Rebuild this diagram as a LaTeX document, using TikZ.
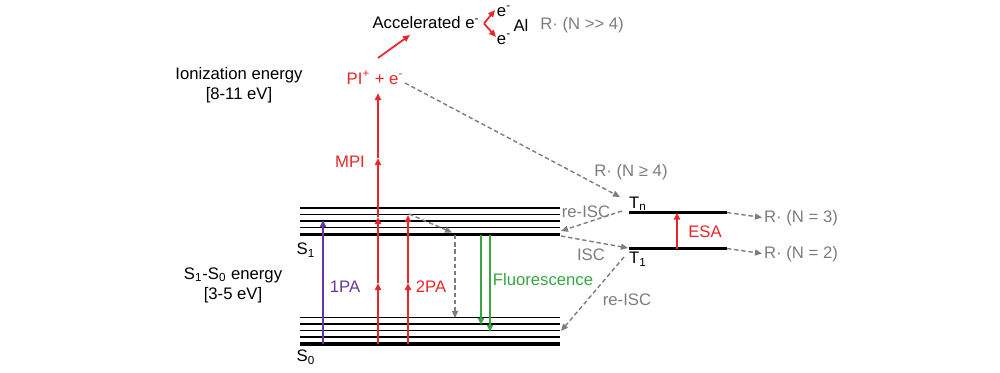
\documentclass[tikz,border=0pt]{standalone}
\usepackage{fontspec}
\setmainfont{Liberation Sans}
\usetikzlibrary{arrows.meta}
\definecolor{pred}{RGB}{232,38,42}
\definecolor{pgray}{RGB}{125,125,125}
\definecolor{pgreen}{RGB}{55,165,65}
\definecolor{ppurple}{RGB}{100,55,160}
\begin{document}
\begin{tikzpicture}[x=0.02cm,y=-0.02cm,
  font=\fontsize{9.5}{11.4}\selectfont,
  lbl/.style={inner sep=0pt},
  lvl/.style={line width=1.1pt},
  lvlthick/.style={line width=2.1pt},
  tipA/.style={-{Triangle[length=4pt,width=3.4pt]}},
  redarr/.style={pred, line width=1pt, tipA},
  dasharr/.style={pgray, line width=0.8pt, dash pattern=on 2.5pt off 1.6pt, tipA}
]
\useasboundingbox (0,0) rectangle (1000,372);

% --- levels ---
\foreach \yy in {208,214.5,221,227.5} \draw[lvl] (300,\yy) -- (560,\yy);
\draw[lvlthick] (300,234.5) -- (560,234.5);
\foreach \yy in {317.5,324,330.5,337} \draw[lvl] (300,\yy) -- (560,\yy);
\draw[lvlthick] (300,344) -- (560,344);
\draw[lvlthick] (629,212.5) -- (727,212.5);
\draw[lvlthick] (629,248.5) -- (727,248.5);

% --- labels ---
\node[lbl, align=center] (ion) at (239,85) {Ionization energy\\{[8-11 eV]}};
\node[lbl, align=center] (s1s0) at (233,285) {S\textsubscript{1}-S\textsubscript{0} energy\\{[3-5 eV]}};
\node[lbl] (s1) at (306,250) {S\textsubscript{1}};
\node[lbl] (s0) at (306,357) {S\textsubscript{0}};
\node[lbl] (tn) at (638,204) {T\textsubscript{n}};
\node[lbl] (t1) at (638,259) {T\textsubscript{1}};
\node[lbl, text=pred] (pi) at (375,78) {PI\textsuperscript{+} + e\textsuperscript{-}};
\node[lbl] (acc) at (426,23) {Accelerated e\textsuperscript{-}};
\node[lbl] (e1) at (504,11) {e\textsuperscript{-}};
\node[lbl] (e2) at (504,39) {e\textsuperscript{-}};
\node[lbl] (al) at (521,25) {Al};
\node[lbl, text=pgray] (rgg) at (582,25) {R· (N >{}> 4)};
\node[lbl, text=pred] (mpi) at (350,162) {MPI};
\node[lbl, text=ppurple] (pa1) at (345,287) {1PA};
\node[lbl, text=pred] (pa2) at (431,287) {2PA};
\node[lbl, text=pgreen] (fl) at (543,280) {Fluorescence};
\node[lbl, text=pgray] (reisc1) at (586,212) {re-ISC};
\node[lbl, text=pgray] (isc) at (591,255) {ISC};
\node[lbl, text=pgray] (reisc2) at (627,300) {re-ISC};
\node[lbl, text=pgray] (rn4) at (631,172) {R· (N ≥ 4)};
\node[lbl, text=pred] (esa) at (705,232) {ESA};
\node[lbl, text=pgray] (rn3) at (801,218) {R· (N = 3)};
\node[lbl, text=pgray] (rn2) at (801,254) {R· (N = 2)};

% --- coordinates ---
\coordinate (mpiB) at (378,344);
\coordinate (mpi1) at (378,283);
\coordinate (mpi2) at (378,217);
\coordinate (mpi3) at (378,158);
\coordinate (mpiT) at (378,93);
\coordinate (paB) at (323,344);
\coordinate (paT) at (323,220);
\coordinate (pbB) at (408,344);
\coordinate (pb1) at (408,283);
\coordinate (pbT) at (408,215);
\coordinate (accS) at (378,58);
\coordinate (accE) at (410,35);
\coordinate (fk) at (484,23.5);
\coordinate (fkU) at (495,10);
\coordinate (fkD) at (496,37);
\coordinate (piR) at (405,83);
\coordinate (tnIn) at (620,197);
\coordinate (tnL) at (622,211);
\coordinate (s1R) at (561,231);
\coordinate (s1R2) at (561,236);
\coordinate (t1L) at (628,248);
\coordinate (t1Ls) at (624,257);
\coordinate (s0R) at (561,331);
\coordinate (tnR) at (727,212.5);
\coordinate (rn3e) at (762,217.5);
\coordinate (t1R) at (727,248.5);
\coordinate (rn2e) at (762,253.5);
\coordinate (esaB) at (677,248.5);
\coordinate (esaT) at (677,212.5);
\coordinate (rlx0) at (409,214);
\coordinate (rlx1) at (452,232.5);
\coordinate (rlx2) at (455,235);
\coordinate (rlx3) at (455,318);
\coordinate (fa0) at (481,234.5);
\coordinate (fa1) at (481,325);
\coordinate (fb0) at (490,234.5);
\coordinate (fb1) at (490,332);

% --- arrows ---
\draw[redarr] (mpiB) -- (mpi1);
\draw[redarr] (mpi1) -- (mpi2);
\draw[redarr] (mpi2) -- (mpi3);
\draw[redarr] (mpi3) -- (mpiT);
\draw[redarr] (pbB) -- (pb1);
\draw[redarr] (pb1) -- (pbT);
\draw[ppurple, line width=1pt, tipA] (paB) -- (paT);
\draw[redarr] (esaB) -- (esaT);
\draw[redarr] (accS) -- (accE);
\draw[redarr] (fk) -- (fkU);
\draw[redarr] (fk) -- (fkD);
\draw[pgreen, line width=1pt, tipA] (fa0) -- (fa1);
\draw[pgreen, line width=1pt, tipA] (fb0) -- (fb1);

\draw[dasharr] (piR) -- (tnIn);
\draw[dasharr] (tnL) -- (s1R);
\draw[dasharr] (s1R2) -- (t1L);
\draw[dasharr] (t1Ls) -- (s0R);
\draw[dasharr] (tnR) -- (rn3e);
\draw[dasharr] (t1R) -- (rn2e);
\draw[dasharr] (rlx0) -- (rlx1);
\draw[dasharr] (rlx2) -- (rlx3);
\end{tikzpicture}
\end{document}
